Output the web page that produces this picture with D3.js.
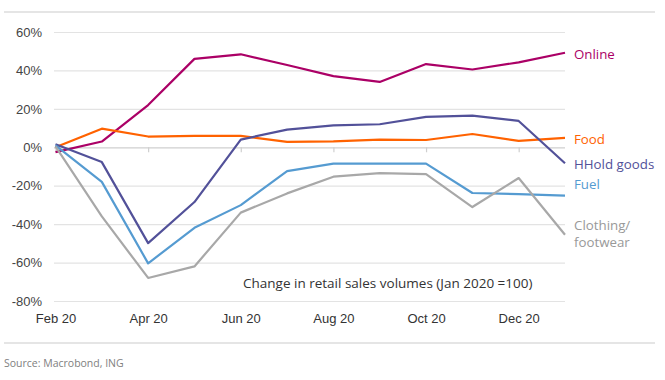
<!DOCTYPE html>
<html><head><meta charset="utf-8">
<script src="https://cdn.jsdelivr.net/npm/d3@7"></script>
<style>
body{margin:0;background:#fff;}
svg{display:block;font-family:"Open Sans",sans-serif;}
</style></head><body>
<svg id="c" width="665" height="380"></svg>
<script>
const months = ["Feb 20","Mar 20","Apr 20","May 20","Jun 20","Jul 20","Aug 20","Sep 20","Oct 20","Nov 20","Dec 20","Jan 21"];
const xTickLabels = ["Feb 20","Apr 20","Jun 20","Aug 20","Oct 20","Dec 20"];
const yTicks = [-80,-60,-40,-20,0,20,40,60];
const online   = [-2.5, 3, 22, 46, 48.4, 42.8, 37, 34, 43.3, 40.5, 44.2, 49.2];
const food     = [0, 9.7, 5.6, 5.9, 5.9, 2.8, 3.1, 4, 3.8, 6.9, 3.3, 4.9];
const hhold    = [1.6, -7.7, -49.9, -28.5, 4, 9.2, 11.4, 12, 15.8, 16.5, 13.7, -8.3];
const fuel     = [1, -18, -60.4, -41.9, -30.1, -12.4, -8.5, -8.5, -8.5, -23.8, -24.4, -25.2];
const clothing = [0.5, -36, -68, -62, -34, -24, -15.3, -13.4, -14, -31.1, -16, -45.5];
const seriesNames = [["Online"],["Food"],["HHold goods"],["Fuel"],["Clothing/","footwear"]];
const seriesColors = ["#AB0066","#FF6200","#525199","#559BD1","#A8A8A8"];
const labelColors = ["#AB0066","#FF6200","#525199","#559BD1","#999999"];
const seriesData = [online, food, hhold, fuel, clothing];
const labelY = [48.2, 4.2, -8.7, -19.4, -40.6];
const annotation = "Change in retail sales volumes (Jan 2020 =100)";
const source = "Source: Macrobond, ING";

const svg = d3.select("#c");
const x = d3.scalePoint().domain(months).range([55.5, 565]);
const y = d3.scaleLinear().domain([-80, 60]).range([301, 32]);

// frame lines
svg.append("line").attr("x1",4).attr("x2",655).attr("y1",12).attr("y2",12).attr("stroke","#dcdcdc").attr("stroke-width",1.5);
svg.append("line").attr("x1",4).attr("x2",655).attr("y1",343).attr("y2",343).attr("stroke","#dcdcdc").attr("stroke-width",1.5);

// y grid + labels
const yAxis = svg.append("g").attr("transform","translate(54,0)")
  .call(d3.axisLeft(y).tickValues(yTicks).tickSize(-511).tickFormat(d => d + "%").tickPadding(12));
yAxis.select(".domain").remove();
yAxis.selectAll(".tick line").attr("stroke", d => d === 0 ? "#cfcfcf" : "#e3e3e3").attr("stroke-width",1.2);
yAxis.selectAll(".tick text").attr("fill","#444").style("font-size","13px");

// small ticks on zero line
const zAxis = svg.append("g").attr("transform",`translate(0,${y(0)})`)
  .call(d3.axisBottom(x).tickValues(xTickLabels).tickSize(5).tickFormat(""));
zAxis.select(".domain").remove();
zAxis.selectAll(".tick line").attr("stroke","#cfcfcf").attr("stroke-width",1.2);

// x labels
const xAxis = svg.append("g").attr("transform","translate(0,314)")
  .call(d3.axisBottom(x).tickValues(xTickLabels).tickSize(0).tickPadding(0));
xAxis.select(".domain").remove();
xAxis.selectAll(".tick text").attr("fill","#333").style("font-size","13px").attr("dy","0.71em");

// lines
const line = d3.line().x((d,i) => x(months[i])).y(d => y(d));
seriesData.forEach((s,k) => {
  svg.append("path").datum(s).attr("d", line).attr("fill","none")
    .attr("stroke", seriesColors[k]).attr("stroke-width",2.2).attr("stroke-linejoin","round");
});

// labels
seriesNames.forEach((parts,k) => {
  parts.forEach((p,j) => {
    svg.append("text").attr("x",574).attr("y", y(labelY[k]) + j*16.7).attr("dy","0.35em")
      .attr("fill", labelColors[k]).style("font-size","13.3px").text(p);
  });
});

svg.append("text").attr("x",243).attr("y",283).attr("dy","0.35em").attr("fill","#333").style("font-size","13.5px").text(annotation);
svg.append("text").attr("x",4).attr("y",363).attr("dy","0.35em").attr("fill","#808080").style("font-size","10.5px").text(source);
</script>
</body></html>
